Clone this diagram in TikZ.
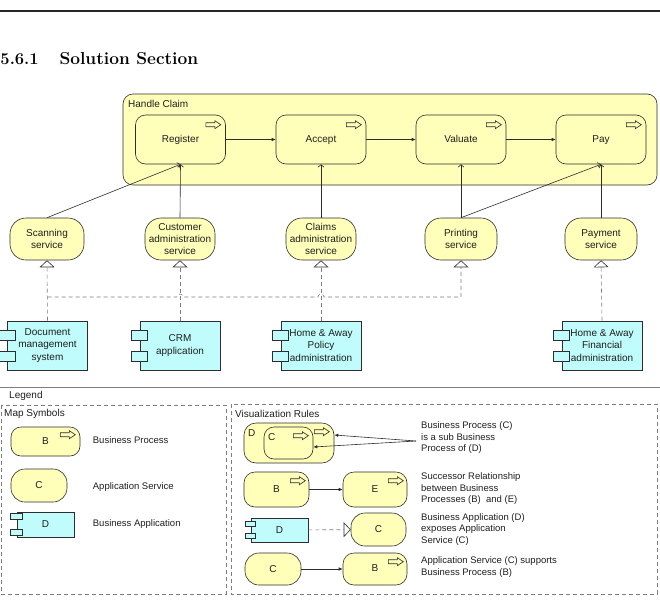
\documentclass[tikz,border=0pt]{standalone}
\usepackage{fontspec}
\setsansfont{Liberation Sans}
\usetikzlibrary{arrows.meta,calc}
\definecolor{bpyel}{RGB}{255,255,185}
\definecolor{appcyan}{RGB}{192,252,252}
\definecolor{bord}{RGB}{45,45,45}
\definecolor{txt}{RGB}{30,30,30}
\definecolor{dgray}{RGB}{125,125,125}
\newcommand\comptabs[4]{%
  \draw[bord, line width=0.6pt, fill=appcyan] ($(#1.north west)+(-#2,#4)$) rectangle ++(2*#2,#3);
  \draw[bord, line width=0.6pt, fill=appcyan] ($(#1.south west)+(-#2,-#4)$) rectangle ++(2*#2,-#3);}
\tikzset{
  lbl/.style={font=\sffamily\fontsize{10}{12.2}\selectfont, text=txt},
  small/.style={font=\sffamily\fontsize{9.5}{11.5}\selectfont, text=txt, inner sep=0pt},
  proc/.style={lbl, draw=bord, fill=bpyel, line width=0.6pt, rounded corners=10pt, minimum width=90pt, minimum height=49pt, inner sep=0pt, text height=7.2pt, text depth=2.2pt},
  svc/.style={lbl, draw=bord, fill=bpyel, line width=0.6pt, rounded corners=16pt, minimum height=42pt, align=center, inner sep=0pt},
  app/.style={lbl, draw=bord, fill=appcyan, line width=0.6pt, minimum width=80pt, minimum height=49pt, align=center, inner sep=0pt},
  flow/.style={draw=bord, line width=0.6pt, -{Latex[length=4pt,width=3.5pt]}},
  serve/.style={draw=bord, line width=0.6pt, -{Straight Barb[length=2.5pt,width=6pt]}},
  realz/.style={draw=dgray, line width=0.6pt, dash pattern=on 4pt off 3pt, -{Triangle[length=7pt,width=15pt,color=bord,fill=white]}},
  dashline/.style={draw=dgray, line width=0.6pt, dash pattern=on 4pt off 3pt},
  procicon/.pic={\draw[bord, line width=0.6pt, fill=bpyel] (-15,2) -- (-6,2) -- (-6,0) -- (0,4) -- (-6,8) -- (-6,6) -- (-15,6) -- cycle;},
}
\begin{document}
\begin{tikzpicture}[x=1pt,y=-1pt]
\useasboundingbox (0,0) rectangle (660,608);
% header
\draw[line width=1.2pt, black!85] (0,11) -- (660,11);
\node[font=\fontsize{16.5}{20}\selectfont\bfseries, anchor=base west, inner sep=0pt] (num) at (0.3,64.3) {5.6.1};
\node[font=\fontsize{17.3}{20}\selectfont\bfseries, anchor=base west, inner sep=0pt] (ttl) at (59.3,64.3) {Solution Section};
% handle claim
\node[draw=bord, fill=bpyel, line width=0.6pt, rounded corners=10pt, minimum width=534pt, minimum height=91pt, inner sep=0pt] (hc) at (390,139.5) {};
\node[lbl, anchor=west, inner sep=0pt] (hcl) at (128,104) {Handle Claim};
\node[proc] (reg) at (180.5,139.5) {Register};
\node[proc] (acc) at (321,139.5) {Accept};
\node[proc] (val) at (461,139.5) {Valuate};
\node[proc] (pay) at (601,139.5) {Pay};
\foreach \n in {reg,acc,val,pay} {\path (\n.north east) ++(-5,6) pic {procicon};}
\draw[flow] (reg) -- (acc);
\draw[flow] (acc) -- (val);
\draw[flow] (val) -- (pay);
% services
\node[svc, minimum width=74pt] (scan) at (47,239) {Scanning\\service};
\node[svc, minimum width=70pt] (cust) at (180,239) {Customer\\administration\\service};
\node[svc, minimum width=70pt] (clm) at (321,239) {Claims\\administration\\service};
\node[svc, minimum width=72pt] (prt) at (461,239) {Printing\\service};
\node[svc, minimum width=72pt] (pys) at (601,239) {Payment\\service};
\draw[serve] (scan.north) -- (reg.south);
\draw[serve] (cust.north) -- (reg.south);
\draw[serve] (clm.north) -- (acc.south);
\draw[serve] (prt.north) -- (val.south);
\draw[serve] (prt.north) -- (pay.south);
\draw[serve] (pys.north) -- (pay.south);
% applications
\node[app] (doc) at (47.5,345.5) {Document\\management\\system};
\node[app] (crm) at (180,345.5) {CRM\\application};
\node[app] (hap) at (321,345.5) {Home \& Away\\Policy\\administration};
\node[app] (haf) at (602,345.5) {Home \& Away\\Financial\\administration};
\foreach \n in {doc,crm,hap,haf} {\comptabs{\n}{8}{10}{9.5}}
\coordinate (j1) at (47.5,297);
\coordinate (j2) at (461,297);
\draw[realz] (doc.north) -- (scan.south);
\draw[realz] (crm.north) -- (cust.south);
\draw[realz] (hap.north) -- (clm.south);
\draw[realz] (haf.north) -- (pys.south);
\draw[realz] (j1) -- (177,297) arc[start angle=180,end angle=360,radius=3] -- (318,297) arc[start angle=180,end angle=360,radius=3] -- (j2) -- (prt.south);
% legend
\draw[dgray, line width=0.8pt] (0,387) -- (660,387);
\node[lbl, anchor=west, inner sep=0pt] (leg) at (9,395.5) {Legend};
\draw[dashline] (1,405) rectangle (226,594);
\node[lbl, anchor=west, inner sep=0pt] (ms) at (4,414) {Map Symbols};
\node[proc, minimum width=69pt, minimum height=29pt, rounded corners=10pt] (lB) at (45.5,441.5) {B};
\path (lB.north east) ++(-5,4) pic {procicon};
\node[svc, minimum width=56pt, minimum height=33pt, rounded corners=14pt] (lC) at (39,485.5) {C};
\node[app, minimum width=57pt, minimum height=25pt] (lD) at (45.5,524.5) {D};
\comptabs{lD}{6}{6}{2}
\node[small, anchor=west] (tB) at (92.7,440) {Business Process};
\node[small, anchor=west] (tC) at (92.7,487) {Application Service};
\node[small, anchor=west] (tD) at (92.7,524) {Business Application};
\draw[dashline] (231,404) rectangle (657,594);
\node[lbl, anchor=west, inner sep=0pt] (vr) at (235,414) {Visualization Rules};
% rule 1
\node[proc, minimum width=90pt, minimum height=40pt, rounded corners=12pt] (rD) at (289,443) {};
\node[lbl, anchor=west, inner sep=0pt] (rDl) at (248,433) {D};
\path (rD.north east) ++(-5,5) pic {procicon};
\node[proc, minimum width=49pt, minimum height=32pt, rounded corners=10pt] (rC) at (288.5,443) {};
\node[lbl, anchor=west, inner sep=0pt] (rCl) at (268,437) {C};
\path (rC.north east) ++(-5,5) pic {procicon};
\coordinate (t1) at (416,441);
\draw[flow] (t1) -- ($(rD.east)+(0,-8)$);
\draw[flow] (t1) -- ($(rC.east)+(0,4)$);
\node[small, anchor=west, align=left] (r1t) at (421,438) {Business Process (C)\\is a sub Business\\Process of (D)};
% rule 2
\node[proc, minimum width=65pt, minimum height=35pt, rounded corners=11pt] (rB) at (276.5,489.5) {B};
\node[proc, minimum width=64pt, minimum height=35pt, rounded corners=11pt] (rE) at (375,489.5) {E};
\path (rB.north east) ++(-4,5) pic {procicon};
\path (rE.north east) ++(-4,5) pic {procicon};
\draw[flow] (rB) -- (rE);
\node[small, anchor=west, align=left] (r2t) at (421,489) {Successor Relationship\\between Business\\Processes (B)\ \ and (E)};
% rule 3
\node[app, minimum width=57pt, minimum height=24pt] (rDa) at (279.5,530) {D};
\comptabs{rDa}{5}{5}{4}
\node[svc, minimum width=55pt, minimum height=33pt, rounded corners=14pt] (rCs) at (378.5,529.5) {C};
\draw[realz] (rDa) -- (rCs);
\node[small, anchor=west, align=left] (r3t) at (421,529.5) {Business Application (D)\\exposes Application\\Service (C)};
% rule 4
\node[svc, minimum width=56pt, minimum height=32pt, rounded corners=14pt] (rC2) at (273,569) {C};
\node[proc, minimum width=64pt, minimum height=32pt, rounded corners=11pt] (rB2) at (375,569) {B};
\path (rB2.north east) ++(-4,5) pic {procicon};
\draw[flow] (rC2) -- (rB2);
\node[small, anchor=west, align=left] (r4t) at (421,567) {Application Service (C) supports\\Business Process (B)};
\end{tikzpicture}
\end{document}
